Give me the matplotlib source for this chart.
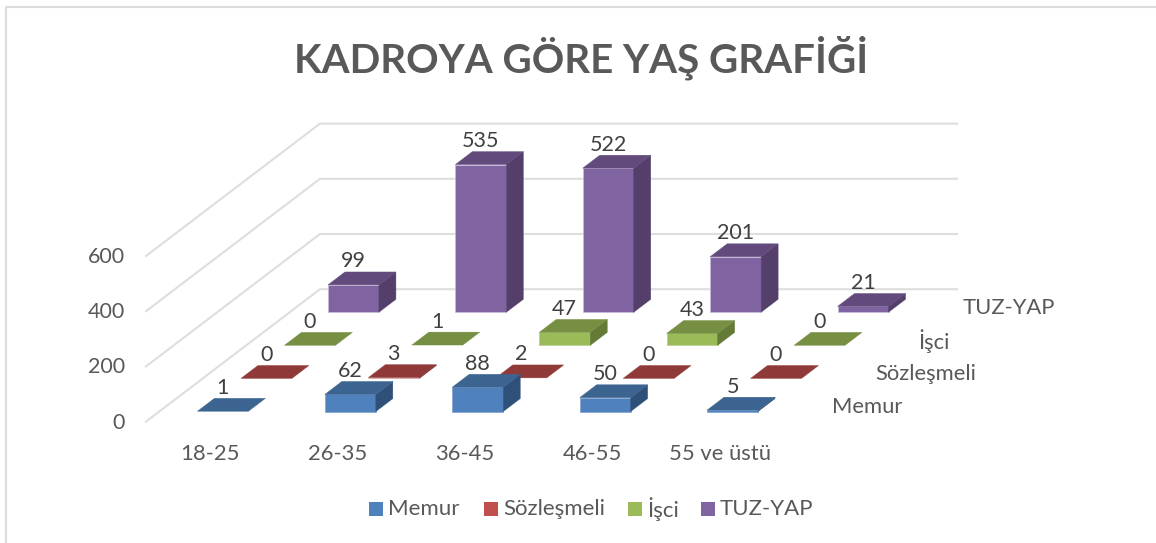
import matplotlib
matplotlib.use("Agg")
import matplotlib.pyplot as plt
from matplotlib.patches import Polygon, Rectangle

plt.rcParams['font.family'] = ['Lato', 'DejaVu Sans']

categories = ["18-25", "26-35", "36-45", "46-55", "55 ve üstü"]
series_names = ["Memur", "Sözleşmeli", "İşci", "TUZ-YAP"]
memur = [1, 62, 88, 50, 5]
sozlesmeli = [0, 3, 2, 0, 0]
isci = [0, 1, 47, 43, 0]
tuzyap = [99, 535, 522, 201, 21]
yticks = [0, 200, 400, 600]

# front, top, side colours per series
colors = [("#4f81bd", "#3c6490", "#2f5078"),
          ("#c0504d", "#8f3a38", "#7a302e"),
          ("#9bbb59", "#778f42", "#647a37"),
          ("#8064a2", "#624b7c", "#533f6a")]
edges = ["#7fa3d3", "#c98a88", "#b9cf8c", "#c9bcdc"]

# oblique projection, in image pixels
x0, y0 = 146, 421.6
cat_w, dep_x, dep_y = 127.4, 43.5, 33.1
val_y = 0.276
bar_w, bar_d = 0.4, 0.39
txt = "#404040"
lab = "#595959"

def proj(c, d, v=0):
	return (x0 + cat_w*c + dep_x*d, y0 - dep_y*d - val_y*v)

def bar(ax, i, s, v):
	c1, c2 = i + 0.5 - bar_w/2, i + 0.5 + bar_w/2
	d1, d2 = s + 0.5 - bar_d/2, s + 0.5 + bar_d/2
	front, top, side = colors[s]
	e = edges[s]
	if v > 2:
		ax.add_patch(Polygon([proj(c1, d1), proj(c2, d1), proj(c2, d1, v), proj(c1, d1, v)],
			facecolor=front, edgecolor=e, lw=0.5, zorder=10))
		ax.add_patch(Polygon([proj(c2, d1), proj(c2, d2), proj(c2, d2, v), proj(c2, d1, v)],
			facecolor=side, edgecolor=side, lw=0.3, zorder=10))
	ax.add_patch(Polygon([proj(c1, d1, v), proj(c2, d1, v), proj(c2, d2, v), proj(c1, d2, v)],
		facecolor=top, edgecolor=top, lw=0.3, zorder=10))
	lx, ly = proj(i + 0.5, d2, v)
	ax.text(lx - 17, ly - 0.5, str(v), ha="center", va="bottom", fontsize=15.5, color=txt, zorder=20)

fig = plt.figure(figsize=(11.56, 5.43), dpi=100)
ax = fig.add_axes([0, 0, 1, 1])
ax.set_xlim(0, 1156)
ax.set_ylim(543, 0)
ax.axis("off")

# chart frame, only top and left show in the crop
ax.plot([5.5, 5.5, 1156], [543, 6.5, 6.5], color="#dcdcdc", lw=1.5)

# gridlines on the floor side and back wall
for t in yticks:
	ax.plot(*zip(proj(0, 0, t), proj(0, 4, t), proj(5, 4, t)), color="#dedede", lw=1.5, zorder=1)
	x, y = proj(0, 0, t)
	ax.text(x - 21, y + 1, str(t), ha="right", va="center", fontsize=15.5, color=lab)

all_series = [memur, sozlesmeli, isci, tuzyap]
for s in range(3, -1, -1):
	for i in range(len(categories)):
		bar(ax, i, s, all_series[s][i])

for i, c in enumerate(categories):
	x, y = proj(i + 0.5, 0)
	ax.text(x + 0.5, y + 32, c, ha="center", va="center", fontsize=15.8, color=lab)

for s, n in enumerate(series_names):
	x, y = proj(5, s + 0.5)
	ax.text(x + 27, y + 2, n, ha="left", va="center", fontsize=15.8, color=lab)

ax.text(581, 58, "KADROYA GÖRE YAŞ GRAFİĞİ", ha="center", va="center", fontsize=29, fontweight="bold", color=lab)

# legend
leg_x = [369, 484, 628, 701]
for s, n in enumerate(series_names):
	ax.add_patch(Rectangle((leg_x[s], 502), 14, 14, facecolor=colors[s][0], edgecolor="none"))
	ax.text(leg_x[s] + 19, 509, n, ha="left", va="center", fontsize=16, color=lab)

fig.savefig("out.png", dpi=100)
